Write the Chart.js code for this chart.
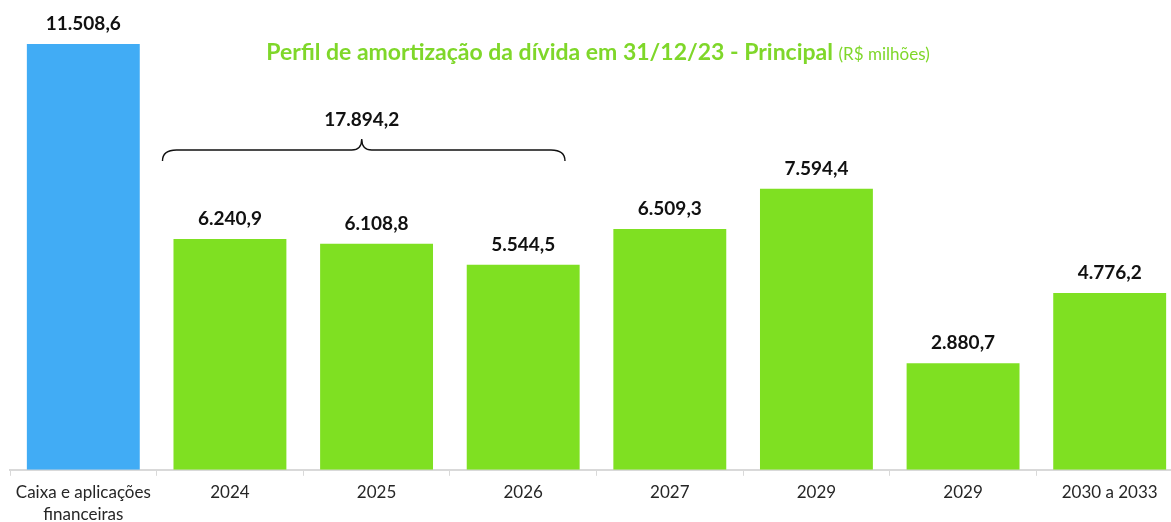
<!DOCTYPE html>
<html>
<head>
<meta charset="utf-8">
<script src="https://cdn.jsdelivr.net/npm/chart.js@4"></script>
<style>
  html, body { margin: 0; padding: 0; background: #fff; overflow: hidden; }
  #clip { width: 1171px; height: 522px; overflow: hidden; }
  #wrap { width: 1184px; height: 532px; }
</style>
</head>
<body>
<div id="clip"><div id="wrap"><canvas id="chart"></canvas></div></div>
<script>
const categories = [['Caixa e aplicações', 'financeiras'], '2024', '2025', '2026', '2027', '2029', '2029', '2030 a 2033'];
const amounts = [11508.6, 6240.9, 6108.8, 5544.5, 6509.3, 7594.4, 2880.7, 4776.2];
const barColors = ['#41acf5', '#7fe022', '#7fe022', '#7fe022', '#7fe022', '#7fe022', '#7fe022', '#7fe022'];
const braceTotal = '17.894,2';
const titleMain = 'Perfil de amortização da dívida em 31/12/23 - Principal';
const titleUnit = '(R$ milhões)';

const FONT = 'Lato, "Open Sans", sans-serif';

function fmt(v) {
    const parts = v.toFixed(1).split('.');
    return parts[0].replace(/\B(?=(\d{3})+(?!\d))/g, '.') + ',' + parts[1];
}

const overlay = {
    id: 'overlay',
    afterDatasetsDraw(chart) {
        const ctx = chart.ctx;
        const x = chart.scales.x;
        const meta = chart.getDatasetMeta(0);
        ctx.save();

        // value labels
        ctx.fillStyle = '#111';
        ctx.font = 'bold 19px ' + FONT;
        ctx.textAlign = 'center';
        ctx.textBaseline = 'alphabetic';
        meta.data.forEach((bar, i) => {
            ctx.fillText(fmt(amounts[i]), bar.x, bar.y - 14);
        });

        // title
        ctx.textAlign = 'left';
        ctx.font = 'bold 23px ' + FONT;
        const w1 = ctx.measureText(titleMain + ' ').width;
        ctx.font = '17px ' + FONT;
        const w2 = ctx.measureText(titleUnit).width;
        let tx = 598 - (w1 + w2) / 2;
        ctx.fillStyle = '#7fd72a';
        ctx.font = 'bold 23px ' + FONT;
        ctx.fillText(titleMain, tx, 60);
        ctx.font = '17px ' + FONT;
        ctx.fillText(titleUnit, tx + w1, 60);

        // brace over 2024-2026
        const cw = x.getPixelForValue(1) - x.getPixelForValue(0);
        const x0 = x.getPixelForValue(1) - 0.46 * cw;
        const x1 = x.getPixelForValue(3) + 0.285 * cw;
        const xm = (x0 + x1) / 2 - 2;
        const yt = 145, yb = 161, ym = 150;
        ctx.strokeStyle = '#111';
        ctx.lineWidth = 1.4;
        ctx.beginPath();
        ctx.moveTo(x0, yb);
        ctx.quadraticCurveTo(x0, ym, x0 + 14, ym);
        ctx.lineTo(xm - 10, ym);
        ctx.quadraticCurveTo(xm, ym, xm, yt - 6);
        ctx.quadraticCurveTo(xm, ym, xm + 10, ym);
        ctx.lineTo(x1 - 14, ym);
        ctx.quadraticCurveTo(x1, ym, x1, yb);
        ctx.stroke();

        ctx.fillStyle = '#111';
        ctx.textAlign = 'center';
        ctx.font = 'bold 19px ' + FONT;
        ctx.fillText(braceTotal, xm, 126);
        ctx.restore();
    }
};

new Chart(document.getElementById('chart'), {
    type: 'bar',
    data: {
        labels: categories,
        datasets: [{
            data: amounts,
            backgroundColor: barColors,
            borderWidth: 0,
            categoryPercentage: 1,
            barPercentage: 0.77
        }]
    },
    options: {
        responsive: true,
        maintainAspectRatio: false,
        animation: false,
        layout: { padding: { top: 44, left: 10, right: 1, bottom: 0 } },
        plugins: { legend: { display: false }, tooltip: { enabled: false } },
        scales: {
            y: { display: false, min: 0, max: 11508.6 },
            x: {
                grid: { drawOnChartArea: false, drawTicks: true, tickLength: 6, color: '#d9d9d9', offset: true },
                border: { color: '#d9d9d9', width: 2 },
                ticks: { color: '#262626', font: { family: FONT, size: 17, lineHeight: 1.3 }, padding: 6, maxRotation: 0, autoSkip: false }
            }
        }
    },
    plugins: [overlay]
});
</script>
</body>
</html>
